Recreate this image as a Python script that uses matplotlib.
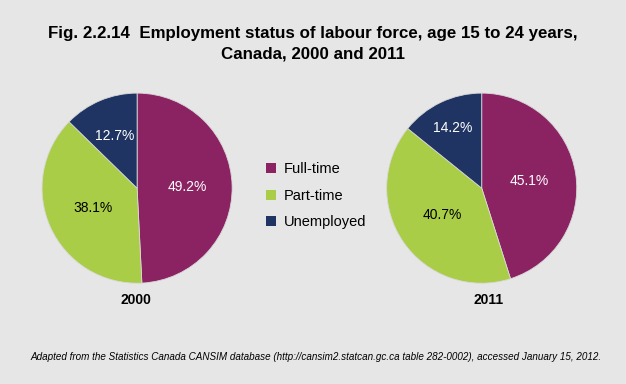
import matplotlib
matplotlib.use('Agg')
import numpy as np
import matplotlib.pyplot as plt
from matplotlib.patches import Patch

plt.rcParams['font.family'] = ['Liberation Sans', 'DejaVu Sans']

# data
categories = ['Full-time', 'Part-time', 'Unemployed']
years = ['2000', '2011']
shares_2000 = [49.2, 38.1, 12.7]
shares_2011 = [45.1, 40.7, 14.2]
colors = ['#8B2363', '#A9CD46', '#1F3462']
pct_colors = ['white', 'black', 'white']

bg = '#E6E6E6'
fig = plt.figure(figsize=(6.26, 3.84), dpi=100, facecolor=bg)

# axes placement in figure fractions (left, bottom, width, height)
ax1 = fig.add_axes([0.0655, 0.26, 0.307, 0.50])
ax2 = fig.add_axes([0.616, 0.26, 0.307, 0.50])

# label distance from centre, per wedge
label_dist = {ax1: [0.53, 0.51, 0.60], ax2: [0.51, 0.50, 0.70]}

for ax, vals in [(ax1, shares_2000), (ax2, shares_2011)]:
    ax.set_facecolor(bg)
    wedges, texts, autotexts = ax.pie(
        vals, colors=colors, startangle=90, counterclock=False,
        autopct='%.1f%%', pctdistance=0.56,
        wedgeprops=dict(linewidth=0.6, edgecolor='#D8D8D8'),
        textprops=dict(fontsize=10)
    )
    for w, t, c, d in zip(wedges, autotexts, pct_colors, label_dist[ax]):
        t.set_color(c)
        ang = np.deg2rad((w.theta1 + w.theta2) / 2)
        t.set_position((d * np.cos(ang), d * np.sin(ang)))
    ax.set_xlim(-1.01, 1.01)
    ax.set_ylim(-1.01, 1.01)
    ax.set_aspect('equal')

fig.text(0.5, 0.885, 'Fig. 2.2.14  Employment status of labour force, age 15 to 24 years,\nCanada, 2000 and 2011',
         ha='center', va='center', fontsize=12.2, fontweight='bold', linespacing=1.45)

fig.text(0.217, 0.218, years[0], ha='center', va='center', fontsize=10, fontweight='bold')
fig.text(0.78, 0.218, years[1], ha='center', va='center', fontsize=10, fontweight='bold')

handles = [Patch(facecolor=c, edgecolor='none') for c in colors]
fig.legend(handles, categories, loc='center', bbox_to_anchor=(0.505, 0.49),
           frameon=False, fontsize=10.5, handlelength=0.7, handleheight=0.7,
           handletextpad=0.5, labelspacing=0.85)

fig.text(0.505, 0.07, 'Adapted from the Statistics Canada CANSIM database (http://cansim2.statcan.gc.ca table 282-0002), accessed January 15, 2012.',
         ha='center', va='center', fontsize=7.1, style='italic')

plt.savefig('out.png', dpi=100, facecolor=bg)
